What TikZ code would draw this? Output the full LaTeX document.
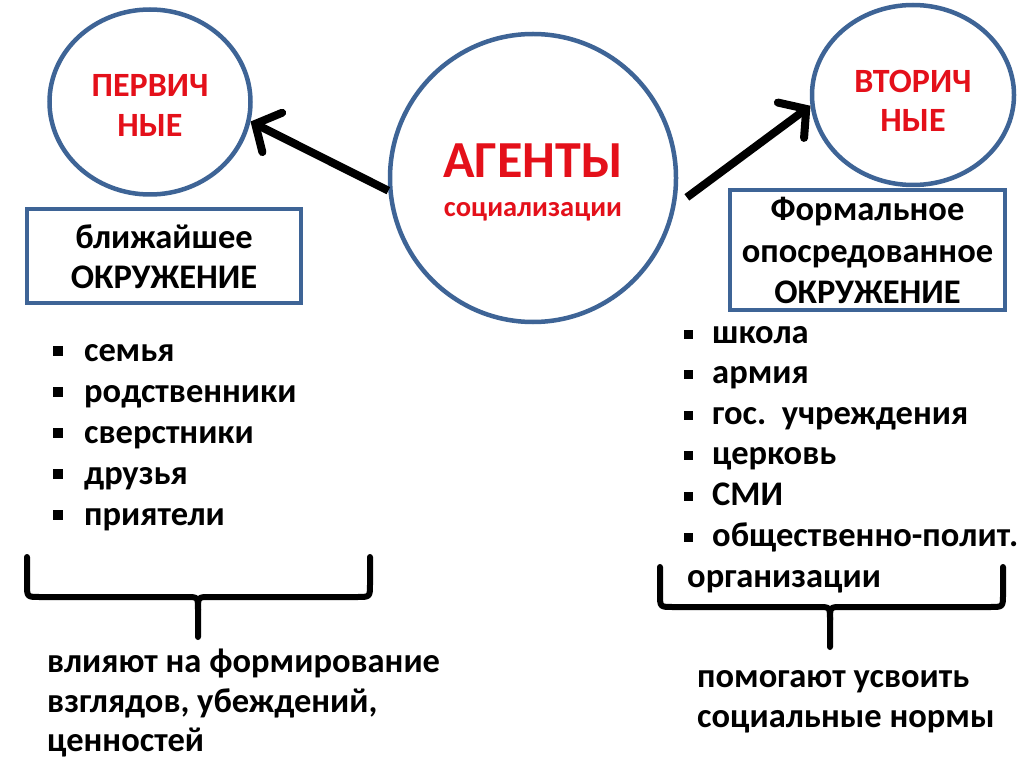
\documentclass[tikz,border=0pt]{standalone}
\usepackage{fontspec}
\setmainfont{Carlito}
\usetikzlibrary{shapes.geometric,arrows.meta}
\definecolor{cblue}{RGB}{62,100,150}
\definecolor{cred}{RGB}{228,16,26}
\tikzset{
  circ/.style={draw=cblue,line width=4.5pt,ellipse,inner sep=0pt,fill=white},
  boxx/.style={draw=cblue,line width=4.5pt,rectangle,inner sep=0pt,fill=white},
  txt/.style={inner sep=0pt,font=\fontsize{34.5}{41}\selectfont\bfseries,text=black},
  ctxt/.style={inner sep=0pt,font=\fontsize{34}{40}\selectfont\bfseries,text=cred,anchor=base},
  bul/.style={fill=black,inner sep=0pt,minimum size=10pt,rectangle},
  arr/.style={line width=8pt,-{Straight Barb[length=19pt,width=44pt,line cap=round]}},
  brace/.style={line width=6pt,line cap=round,line join=round}
}
\begin{document}
\begin{tikzpicture}[x=1pt,y=-1pt]
\useasboundingbox[fill=white] (0,0) rectangle (1024,767);
% circles
\node[circ,minimum width=286pt,minimum height=288pt] (c) at (533,178) {};
\node[ctxt,font=\fontsize{52}{56}\selectfont\bfseries] (cag) at (533,178) {АГЕНТЫ};
\node[ctxt,font=\fontsize{28.5}{32}\selectfont\bfseries] (cso) at (533,217) {социализации};
\node[circ,minimum width=201pt,minimum height=185pt] (l) at (150,102) {};
\node[ctxt] (lt1) at (150,97) {ПЕРВИЧ};
\node[ctxt] (lt2) at (150,137) {НЫЕ};
\node[circ,minimum width=202pt,minimum height=180pt] (r) at (913,95) {};
\node[ctxt] (rt1) at (913,93) {ВТОРИЧ};
\node[ctxt] (rt2) at (913,132) {НЫЕ};
% arrows
\draw[arr] (c.185) -- (l.349);
\draw[arr,shorten <=14pt] (c.349) -- (r.186);
% boxes
\node[boxx,minimum width=274pt,minimum height=94pt] (lb) at (164,256) {};
\node[txt,anchor=base] (lbt1) at (164,248) {ближайшее};
\node[txt,anchor=base] (lbt2) at (164,288) {ОКРУЖЕНИЕ};
\node[boxx,minimum width=275pt,minimum height=120pt] (rb) at (867.5,250) {};
\node[txt,anchor=base] (rbt1) at (867.5,221) {Формальное};
\node[txt,anchor=base] (rbt2) at (867.5,262) {опосредованное};
\node[txt,anchor=base] (rbt3) at (867.5,303) {ОКРУЖЕНИЕ};
% left list
\foreach \t [count=\i] in {семья,родственники,сверстники,друзья,приятели}{
  \node[bul] (lbul\i) at (58,{351+41*(\i-1)}) {};
  \node[txt,anchor=base west] (li\i) at (84,{361+41*(\i-1)}) {\t};
}
% right list
\foreach \t [count=\i] in {школа,армия,{гос.\ \ учреждения},церковь,СМИ,общественно-полит.}{
  \node[bul,minimum size=9pt] (rbul\i) at (688,{334+40.6*(\i-1)}) {};
  \node[txt,anchor=base west] (ri\i) at (712,{343+40.6*(\i-1)}) {\t};
}
\node[txt,anchor=base west] (ri7) at (687,587) {организации};
% braces
\draw[brace] (27,557) -- (27,584) .. controls (27,597) .. (40,597) -- (186,597) .. controls (198,597) .. (198,610) -- (198,637);
\draw[brace] (370,557) -- (370,584) .. controls (370,597) .. (357,597) -- (210,597) .. controls (198,597) .. (198,610);
\draw[brace] (660,567) -- (660,594) .. controls (660,607) .. (673,607) -- (818,607) .. controls (830,607) .. (830,620) -- (830,647);
\draw[brace] (1003,567) -- (1003,594) .. controls (1003,607) .. (990,607) -- (842,607) .. controls (830,607) .. (830,620);
% bottom texts
\node[txt,anchor=base west] (bl1) at (47,672) {влияют на формирование};
\node[txt,anchor=base west] (bl2) at (47,712) {взглядов, убеждений,};
\node[txt,anchor=base west] (bl3) at (47,751) {ценностей};
\node[txt,anchor=base west] (br1) at (697,687) {помогают усвоить};
\node[txt,anchor=base west] (br2) at (697,727) {социальные нормы};
\end{tikzpicture}
\end{document}
